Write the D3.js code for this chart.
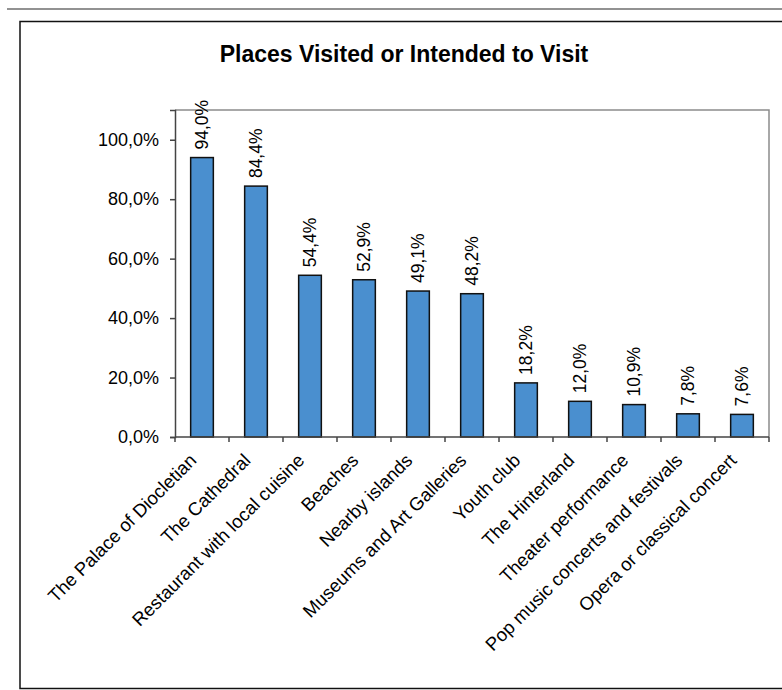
<!DOCTYPE html>
<html>
<head>
<meta charset="utf-8">
<script src="https://cdn.jsdelivr.net/npm/d3@7"></script>
<style>
  html, body { margin: 0; padding: 0; background: #fff; }
  svg { display: block; font-family: "Liberation Sans", Arial, sans-serif; }
</style>
</head>
<body>
<svg id="chart" width="782" height="690"></svg>
<script>
// Survey results: share of respondents per place
const categories = [
  "The Palace of Diocletian",
  "The Cathedral",
  "Restaurant with local cuisine",
  "Beaches",
  "Nearby islands",
  "Museums and Art Galleries",
  "Youth club",
  "The Hinterland",
  "Theater performance",
  "Pop music concerts and festivals",
  "Opera or classical concert"
];
const values = [94.0, 84.4, 54.4, 52.9, 49.1, 48.2, 18.2, 12.0, 10.9, 7.8, 7.6];
const yTicks = [0, 20, 40, 60, 80, 100];
const title = "Places Visited or Intended to Visit";

const svg = d3.select("#chart");
const fmt = v => d3.format(".1f")(v).replace(".", ",") + "%";

// page rule and chart frame
svg.append("line")
  .attr("x1", 7).attr("x2", 782).attr("y1", 9).attr("y2", 9)
  .attr("stroke", "#6e6e6e").attr("stroke-width", 1.5);
svg.append("rect")
  .attr("x", 20).attr("y", 21.5).attr("width", 780).attr("height", 667)
  .attr("fill", "#fff").attr("stroke", "#111").attr("stroke-width", 1.5);

// plot area
const plot = { left: 175, right: 769, top: 110, bottom: 437 };

const x = d3.scaleBand()
  .domain(categories)
  .range([plot.left, plot.right])
  .paddingInner(0.58)
  .paddingOuter(0.29);

const y = d3.scaleLinear()
  .domain([0, 110])
  .range([plot.bottom, plot.top]);

// plot area border (top and right)
svg.append("path")
  .attr("d", `M${plot.left},${plot.top}H${plot.right}V${plot.bottom}`)
  .attr("fill", "none").attr("stroke", "#8c8c8c").attr("stroke-width", 1.5);

// title
svg.append("text")
  .attr("x", 404).attr("y", 62)
  .attr("text-anchor", "middle")
  .attr("font-size", 23).attr("font-weight", "bold")
  .attr("fill", "#000")
  .text(title);

// bars
svg.append("g").selectAll("rect")
  .data(values)
  .join("rect")
  .attr("x", (d, i) => x(categories[i]))
  .attr("y", d => y(d))
  .attr("width", x.bandwidth())
  .attr("height", d => y(0) - y(d))
  .attr("fill", "#4a8fcf")
  .attr("stroke", "#111")
  .attr("stroke-width", 1.5);

// value labels above bars
svg.append("g").selectAll("text")
  .data(values)
  .join("text")
  .attr("transform", (d, i) =>
    `translate(${x(categories[i]) + x.bandwidth() / 2},${y(d) - 8}) rotate(-90)`)
  .attr("dy", "0.35em")
  .attr("text-anchor", "start")
  .attr("font-size", 17.5)
  .attr("fill", "#000")
  .text(d => fmt(d));

// y axis
const yAxis = svg.append("g")
  .attr("transform", `translate(${plot.left},0)`)
  .call(d3.axisLeft(y).tickValues(yTicks).tickSize(5).tickPadding(11)
    .tickFormat(d => fmt(d)));
yAxis.select(".domain").attr("stroke", "#444").attr("stroke-width", 1.5);
yAxis.selectAll(".tick line").attr("stroke", "#444").attr("stroke-width", 1.5);
yAxis.selectAll(".tick text")
  .attr("font-size", 18).attr("fill", "#000")
  .attr("font-family", "'Liberation Sans', Arial, sans-serif");

// x axis: ticks sit between categories
const xAxisG = svg.append("g");
xAxisG.append("line")
  .attr("x1", plot.left).attr("x2", plot.right)
  .attr("y1", plot.bottom).attr("y2", plot.bottom)
  .attr("stroke", "#444").attr("stroke-width", 1.5);
xAxisG.selectAll("line.tick")
  .data(d3.range(categories.length + 1))
  .join("line")
  .attr("class", "tick")
  .attr("x1", i => plot.left + i * x.step())
  .attr("x2", i => plot.left + i * x.step())
  .attr("y1", plot.bottom).attr("y2", plot.bottom + 5)
  .attr("stroke", "#444").attr("stroke-width", 1.5);

// rotated category labels
xAxisG.selectAll("text")
  .data(categories)
  .join("text")
  .attr("transform", d =>
    `translate(${x(d) + x.bandwidth() / 2 - 9},${plot.bottom + 20}) rotate(-45)`)
  .attr("text-anchor", "end")
  .attr("dy", "0.35em")
  .attr("font-size", 18.5)
  .attr("fill", "#000")
  .text(d => d);
</script>
</body>
</html>
